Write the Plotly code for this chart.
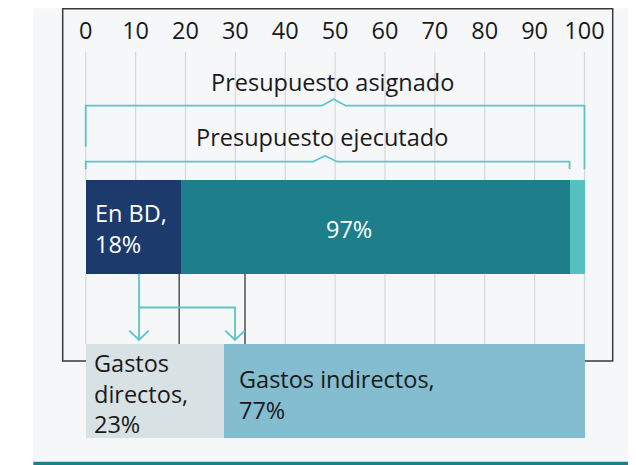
import plotly.graph_objects as go

# ---------------- data ----------------
tick_values = [0, 10, 20, 30, 40, 50, 60, 70, 80, 90, 100]
tick_labels = ["0", "10", "20", "30", "40", "50", "60", "70", "80", "90", "100"]

presupuesto_asignado = 100
presupuesto_ejecutado = 97

# top bar segments (in axis units)
bar_names = ["En BD", "Ejecutado", "No ejecutado"]
bar_widths = [19.2, 77.8, 3.0]
bar_texts = ["En BD,<br>18%", "97%", ""]

# bottom breakdown boxes (as drawn, in axis units)
box_names = ["Gastos directos", "Gastos indirectos"]
box_widths = [27.7, 72.3]
box_texts = ["Gastos<br>directos,<br>23%", "Gastos indirectos,<br>77%"]

# ---------------- styling / layout ----------------
WIN_W, WIN_H = 636, 465
OFF = 8                      # page body margin
W, H = WIN_W - OFF, WIN_H - OFF
X0_PX, X100_PX = 85.7, 584.5  # window pixels of 0 and 100
PXU = (X100_PX - X0_PX) / 100.0
r0 = (OFF - X0_PX) / PXU
r1 = r0 + W / PXU

def u(px):  # window pixel -> axis units
    return (px - X0_PX) / PXU

FONT = "Open Sans"
FS = 23.5
TXT = "#1a1a1a"
C_BD = "#1c3a6b"
C_EJ = "#1c7f8a"
C_NE = "#56bfc0"
C_LINE = "#5cc6c6"
C_DIR = "#d8e2e5"
C_IND = "#84bcd0"
C_PANEL = "#f5f7f9"
C_GRID = "#d6d8da"
C_FRAME = "#3a3a3a"

BAR_TOP, BAR_BOT = 180, 273.7
BOX_TOP, BOX_BOT = 344, 437.7

fig = go.Figure()

# gridlines (upper part for all ticks, lower part for 0 and >=40)
gx, gy = [], []
for v in tick_values:
    gx += [v, v, None]
    gy += [51.7, BAR_TOP, None]
    if v == 0 or v >= 40:
        gx += [v, v, None]
        gy += [BAR_BOT, BOX_TOP, None]
fig.add_trace(go.Scatter(x=gx, y=gy, mode="lines",
                         line=dict(color=C_GRID, width=1.2),
                         hoverinfo="skip", showlegend=False))

# dark connector lines below the bar
dx, dy = [], []
for px in (179.2, 245.0):
    dx += [u(px), u(px), None]
    dy += [BAR_BOT, BOX_TOP, None]
fig.add_trace(go.Scatter(x=dx, y=dy, mode="lines",
                         line=dict(color="#444444", width=1.4),
                         hoverinfo="skip", showlegend=False))

# tick labels
fig.add_trace(go.Scatter(x=tick_values, y=[33] * len(tick_values), mode="text",
                         text=tick_labels, textposition="middle center",
                         textfont=dict(family=FONT, size=FS, color=TXT),
                         hoverinfo="skip", showlegend=False))

# top stacked bar
colors_bar = [C_BD, C_EJ, C_NE]
start = 0
for name, w, c in zip(bar_names, bar_widths, colors_bar):
    fig.add_trace(go.Bar(orientation="h", y=[(BAR_TOP + BAR_BOT) / 2], x=[w],
                         base=[start], width=BAR_BOT - BAR_TOP, name=name,
                         marker=dict(color=c, line=dict(width=0)),
                         hoverinfo="skip", showlegend=False))
    start += w

# bottom boxes
colors_box = [C_DIR, C_IND]
start = 0
for name, w, c in zip(box_names, box_widths, colors_box):
    fig.add_trace(go.Bar(orientation="h", y=[(BOX_TOP + BOX_BOT) / 2], x=[w],
                         base=[start], width=BOX_BOT - BOX_TOP, name=name,
                         marker=dict(color=c, line=dict(width=0)),
                         hoverinfo="skip", showlegend=False))
    start += w

# brackets
pk = 2.4
ya, yat = 105.7, 99.3
xa = u(333.7)
fig.add_trace(go.Scatter(
    x=[0, 0, xa - pk, xa, xa + pk, presupuesto_asignado, presupuesto_asignado],
    y=[146.7, ya, ya, yat, ya, ya, 169.3], mode="lines",
    line=dict(color=C_LINE, width=1.8), hoverinfo="skip", showlegend=False))
ye, yet = 161.7, 155.7
xe = u(325.0)
fig.add_trace(go.Scatter(
    x=[0, 0, xe - pk, xe, xe + pk, presupuesto_ejecutado, presupuesto_ejecutado],
    y=[169.3, ye, ye, yet, ye, ye, 169.3], mode="lines",
    line=dict(color=C_LINE, width=1.8), hoverinfo="skip", showlegend=False))

# arrows
a1, a2 = u(139.0), u(235.0)
ah = 1.95
fig.add_trace(go.Scatter(
    x=[a1, a1, None, a1, a2, a2, None,
       a1 - ah, a1, a1 + ah, None, a2 - ah, a2, a2 + ah],
    y=[BAR_BOT, 340, None, 307.5, 307.5, 340, None,
       330.7, 340, 330.7, None, 330.7, 340, 330.7],
    mode="lines", line=dict(color=C_LINE, width=1.8),
    hoverinfo="skip", showlegend=False))

ann = []
def add_text(x, y, s, color=TXT, anchor="left", size=FS):
    ann.append(dict(x=x, y=y, xref="x", yref="y", text=s, showarrow=False,
                    xanchor=anchor, yanchor="middle", align=anchor if anchor != "center" else "center",
                    borderpad=0, font=dict(family=FONT, size=size, color=color)))

add_text(u(332.5), 82, "Presupuesto asignado", anchor="center")
add_text(u(321.8), 137, "Presupuesto ejecutado", anchor="center")

add_text(u(93.5), 228.5, bar_texts[0], color="white")
add_text(u(349), 229, bar_texts[1], color="white", anchor="center")

add_text(u(92.5), 393, box_texts[0])
add_text(u(237.5), 394.5, box_texts[1])

shapes = [
    # light panel
    dict(type="rect", xref="x", yref="y", x0=u(33.3), x1=u(650), y0=8.3, y1=461.7,
         fillcolor=C_PANEL, line=dict(width=0), layer="below"),
    # bottom teal band
    dict(type="rect", xref="x", yref="y", x0=u(33.3), x1=u(650), y0=461.7, y1=470,
         fillcolor=C_EJ, line=dict(width=0), layer="below"),
    # frame
    dict(type="rect", xref="x", yref="y", x0=u(62.7), x1=u(612.7), y0=8.8, y1=361,
         line=dict(color=C_FRAME, width=1.5), fillcolor="rgba(0,0,0,0)", layer="below"),
]

fig.update_layout(
    width=W, height=H,
    margin=dict(l=0, r=0, t=0, b=0),
    paper_bgcolor="white", plot_bgcolor="rgba(0,0,0,0)",
    barmode="overlay", bargap=0,
    xaxis=dict(range=[r0, r1], visible=False, fixedrange=True),
    yaxis=dict(range=[WIN_H, OFF], visible=False, fixedrange=True),
    shapes=shapes, annotations=ann, showlegend=False,
)

fig.write_html("out.html")
